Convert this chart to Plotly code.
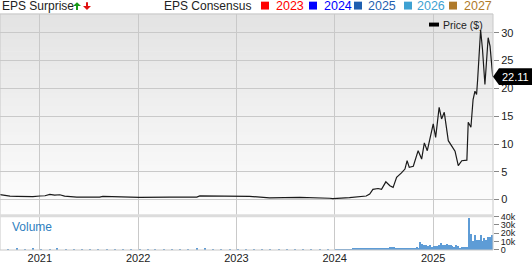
import plotly.graph_objects as go
import pandas as pd

# ---------------- data ----------------
price_dates = [
    "2020-08-06", "2020-09-12", "2020-10-10", "2020-11-07", "2020-12-06", "2021-01-01",
    "2021-01-20", "2021-02-07", "2021-02-25", "2021-03-16", "2021-04-03", "2021-05-18",
    "2021-07-05", "2021-08-11", "2021-08-23", "2021-10-14", "2022-01-07", "2022-04-29",
    "2022-08-07", "2022-08-18", "2022-10-31", "2023-02-19", "2023-05-04", "2023-08-24",
    "2023-12-13", "2023-12-25", "2024-02-25", "2024-04-27", "2024-05-10", "2024-05-22",
    "2024-06-10", "2024-06-23", "2024-07-09", "2024-07-24", "2024-08-05", "2024-08-18",
    "2024-09-05", "2024-09-18", "2024-09-26", "2024-10-04", "2024-10-19", "2024-11-06",
    "2024-11-19", "2024-11-29", "2024-12-10", "2025-01-01", "2025-01-10", "2025-01-23",
    "2025-02-01", "2025-02-11", "2025-02-26", "2025-03-16", "2025-03-23", "2025-04-04",
    "2025-04-17", "2025-05-06", "2025-05-11", "2025-05-21", "2025-05-29", "2025-06-05",
    "2025-06-11", "2025-06-15", "2025-06-26", "2025-07-03", "2025-07-12", "2025-07-24",
    "2025-07-31", "2025-08-10",
]
price_values = [
    0.90, 0.62, 0.58, 0.55, 0.55, 0.65,
    0.70, 0.95, 0.80, 0.88, 0.62, 0.45,
    0.42, 0.45, 0.60, 0.55, 0.42, 0.45,
    0.45, 0.68, 0.62, 0.60, 0.32, 0.42,
    0.25, 0.20, 0.35, 0.65, 1.00, 1.85,
    2.00, 1.85, 3.20, 2.50, 2.20, 4.00,
    4.80, 5.50, 7.00, 5.80, 6.00, 8.80,
    7.30, 10.20, 8.80, 13.60, 11.20, 16.60,
    14.50, 15.70, 10.60, 9.10, 8.70, 6.10,
    7.00, 7.10, 13.90, 13.00, 18.00, 19.50,
    18.90, 21.60, 30.50, 27.00, 20.70, 29.10,
    27.60, 22.11,
]
last_price_label = "22.11"

# early volume (monthly specks, thousands)
vol_early_start = "2020-08-07"
vol_early_values = [
    0.6, 0.8, 0.5, 1.0, 0.6, 0.5, 1.2, 0.6, 0.4, 0.3, 0.3, 0.3,
    0.4, 0.3, 0.3, 0.3, 0.4, 0.3, 0.3, 0.3, 0.3, 0.4, 0.3, 0.8,
    0.9, 0.6, 0.4, 0.3, 0.3, 0.3, 0.3, 0.4, 0.3, 0.3, 0.3, 0.4,
    0.3, 0.3, 0.3, 0.3, 0.3,
]
# weekly volume from 2024-01-05 (thousands)
vol_weekly_start = "2024-01-05"
vol_weekly_values = [
    0.3, 0.4, 0.3, 0.5,
    0.4, 0.3, 0.6, 0.5, 0.4,
    0.8, 1.0, 0.7, 1.2,
    0.9, 1.1, 1.4, 1.0,
    1.2, 2.2, 1.5, 1.0, 1.3,
    1.8, 2.0, 1.2, 1.0,
    1.1, 0.9, 1.3, 2.6,
    3.0, 2.8, 1.2, 1.0, 1.4,
    1.5, 2.0, 1.2, 1.0,
    1.4, 1.1, 2.2, 1.8,
    2.5, 1.6,
    8.6, 7.0, 6.0, 5.5, 4.0, 5.0, 3.0, 4.5, 4.0, 4.0, 6.0, 8.0, 5.5,
    5.5, 6.5, 6.0, 5.0, 4.0, 3.0, 5.0, 4.0, 2.0, 2.5, 3.0, 3.0, 3.5,
    38.0, 18.0, 10.5, 17.0, 12.0, 12.0, 17.5, 10.0, 14.0, 11.0, 15.0, 15.0, 17.0,
]

year_ticks = ["2021-01-01", "2022-01-01", "2023-01-01", "2024-01-01", "2025-01-01"]
year_labels = ["2021", "2022", "2023", "2024", "2025"]
price_ticks = [0, 5, 10, 15, 20, 25, 30]
vol_ticks = [0, 10, 20, 30, 40]
vol_tick_labels = ["0", "10k", "20k", "30k", "40k"]

legend_years = ["2023", "2024", "2025", "2026", "2027"]
legend_colors = ["#ff0000", "#0000ff", "#1f5fb0", "#3ea1d2", "#b07a2a"]

# ---------------- layout helpers ----------------
W, H = 532, 264
PL, PR, PT, PB = 0, 493, 14, 253   # plot area pixels


def px(x):
    return (x - PL) / (PR - PL)


def py(y):
    return (PB - y) / (PB - PT)


FONT = "Liberation Sans, Arial, Helvetica, sans-serif"
price_dom = [py(218), 1.0]
vol_dom = [0.0, py(219)]
x_range = ["2020-08-06", "2025-08-11"]

fig = go.Figure()

fig.add_trace(go.Scatter(
    x=pd.to_datetime(price_dates), y=price_values, mode="lines",
    line=dict(color="#1a1a1a", width=1.2), xaxis="x", yaxis="y",
    showlegend=False, hoverinfo="skip"))

early_dates = pd.date_range(vol_early_start, periods=len(vol_early_values), freq="MS") + pd.Timedelta(days=6)
weekly_dates = pd.date_range(vol_weekly_start, periods=len(vol_weekly_values), freq="7D")
fig.add_trace(go.Bar(
    x=list(early_dates) + list(weekly_dates),
    y=[v * 1000 for v in vol_early_values + vol_weekly_values],
    width=5 * 24 * 3600 * 1000,
    marker=dict(color="#5e9cd6", line=dict(width=0)),
    xaxis="x2", yaxis="y2", showlegend=False, hoverinfo="skip"))

grid = "#c9c9c9"
fig.update_layout(
    width=W, height=H,
    margin=dict(l=PL, r=W - PR, t=PT, b=H - PB, pad=0),
    paper_bgcolor="white", plot_bgcolor="white",
    font=dict(family=FONT, size=11, color="#222"),
    bargap=0,
    xaxis=dict(domain=[0, 1], anchor="y", type="date", range=x_range,
               tickvals=year_ticks, ticktext=year_labels, showticklabels=False,
               showgrid=True, gridcolor=grid, gridwidth=1, zeroline=False, ticks=""),
    yaxis=dict(domain=price_dom, anchor="x", side="right", range=[-2.84, 33.37],
               tickvals=price_ticks, showgrid=True, gridcolor=grid, gridwidth=1,
               zeroline=False, ticks="outside", ticklen=5, tickcolor="#888",
               tickfont=dict(size=11, color="#222")),
    xaxis2=dict(domain=[0, 1], anchor="y2", type="date", range=x_range, matches="x",
                tickvals=year_ticks, ticktext=year_labels, showticklabels=True,
                tickfont=dict(size=11, color="#222"),
                showgrid=True, gridcolor=grid, gridwidth=1, zeroline=False, ticks=""),
    yaxis2=dict(domain=vol_dom, anchor="x2", side="right", range=[0, 40000],
                tickvals=[v * 1000 for v in vol_ticks], ticktext=vol_tick_labels,
                showgrid=False, zeroline=False, ticks="outside", ticklen=5,
                tickcolor="#888", tickfont=dict(size=9, color="#222")),
)

shapes = []
# gradient background in price panel
N = 48
for i in range(N):
    f0 = i / N
    f1 = (i + 1) / N
    c = int(round(254 - (254 - 227) * (i + 0.5) / N))
    shapes.append(dict(type="rect", xref="paper", yref="paper", layer="below",
                       x0=0, x1=1,
                       y0=price_dom[0] + (price_dom[1] - price_dom[0]) * f0,
                       y1=price_dom[0] + (price_dom[1] - price_dom[0]) * f1 + 0.002,
                       fillcolor=f"rgb({c},{c},{c})", line=dict(width=0)))
# borders
shapes.append(dict(type="rect", xref="paper", yref="paper", x0=0, x1=1, y0=0, y1=1,
                   line=dict(color="#c8c8c8", width=1)))
shapes.append(dict(type="line", xref="paper", yref="paper", x0=0, x1=1,
                   y0=py(218.3), y1=py(218.3), line=dict(color="#dcdcdc", width=3)))

# EPS surprise arrows
def path(points):
    return "M " + " L ".join(f"{px(a):.5f},{py(b):.5f}" for a, b in points) + " Z"

shapes.append(dict(type="path", xref="paper", yref="paper",
                   path=path([(77, 2), (81, 6), (78, 6), (78, 10), (76, 10), (76, 6), (73, 6)]),
                   fillcolor="#1a9a1a", line=dict(width=0)))
shapes.append(dict(type="path", xref="paper", yref="paper",
                   path=path([(87, 10), (91, 6), (88, 6), (88, 2), (86, 2), (86, 6), (83, 6)]),
                   fillcolor="#e01010", line=dict(width=0)))

# legend squares
sq_x = [261, 309, 354, 404, 449]
tx_x = [274, 322, 366, 415, 462]
for sx, col in zip(sq_x, legend_colors):
    shapes.append(dict(type="rect", xref="paper", yref="paper",
                       x0=px(sx), x1=px(sx + 8), y0=py(9.5), y1=py(1.5),
                       fillcolor=col, line=dict(width=0)))

# price legend swatch
shapes.append(dict(type="rect", xref="paper", yref="paper",
                   x0=px(429), x1=px(439), y0=py(26.7), y1=py(22.7),
                   fillcolor="#000", line=dict(width=0)))

# last price label
h = 8.5 * (33.37 + 2.84) / 204.0
last = price_values[-1]
shapes.append(dict(type="path", xref="paper", yref="y",
                   path=(f"M {px(493):.5f},{last} L {px(499):.5f},{last + h} "
                         f"L {px(532):.5f},{last + h} L {px(532):.5f},{last - h} "
                         f"L {px(499):.5f},{last - h} Z"),
                   fillcolor="#000", line=dict(width=0)))

annotations = []


def txt(x, y, s, color="#222", size=12, anchor="left"):
    annotations.append(dict(xref="paper", yref="paper", x=px(x), y=py(y), text=s,
                            showarrow=False, xanchor=anchor, yanchor="middle",
                            font=dict(family=FONT, size=size, color=color)))


txt(0, 6, "EPS Surprise")
txt(162, 6, "EPS Consensus")
for t, col, x in zip(legend_years, legend_colors, tx_x):
    txt(x, 6, t, color=col, size=12.5)
txt(441, 25, "Price ($)", size=10.5)
txt(10, 229.5, "Volume", color="#2f7fc0", size=12)
annotations.append(dict(xref="paper", yref="y", x=px(515.5), y=last, text=last_price_label,
                        showarrow=False, xanchor="center", yanchor="middle",
                        font=dict(family=FONT, size=11, color="white")))

fig.update_layout(shapes=shapes, annotations=annotations)
fig.write_html("out.html")
